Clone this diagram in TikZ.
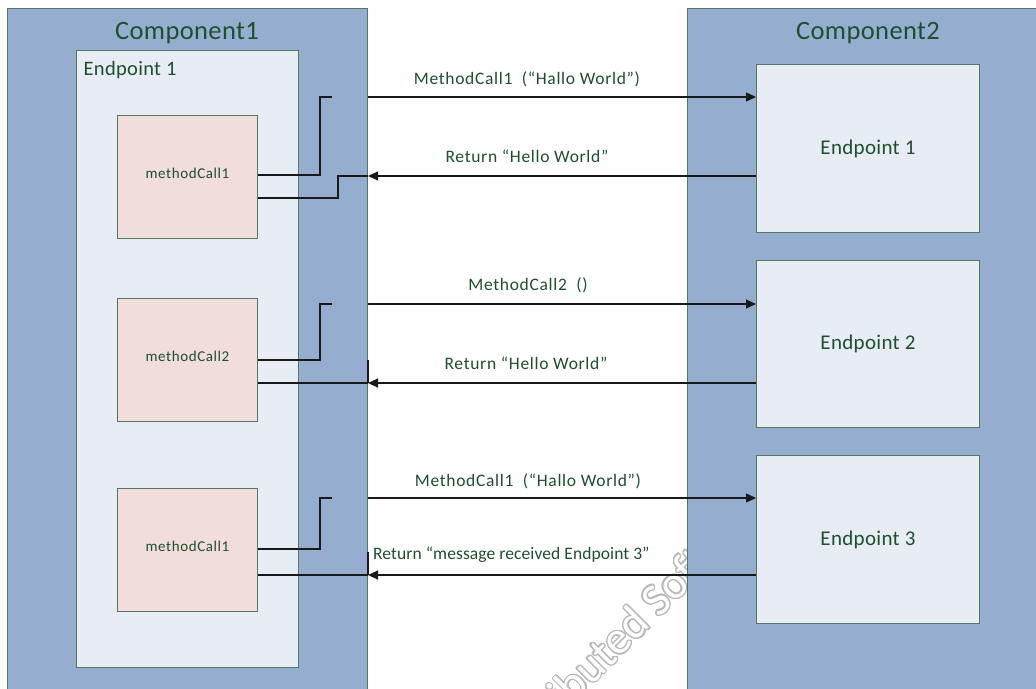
\documentclass[tikz,border=0pt]{standalone}
\usepackage{fontspec}
\usepackage[copies]{contour}
\setmainfont{Carlito}
\newfontfamily\lblfont{Carlito}[LetterSpace=4]
\newfontfamily\tightfont{Carlito}[LetterSpace=0.5]
\newfontfamily\ttlfont{Carlito}[LetterSpace=1.5]
\usetikzlibrary{arrows.meta}
\definecolor{compfill}{RGB}{149,174,207}
\definecolor{epfill}{RGB}{232,237,245}
\definecolor{mcfill}{RGB}{241,221,219}
\definecolor{edgec}{RGB}{84,118,98}
\definecolor{txtc}{RGB}{31,78,48}
\definecolor{wirec}{RGB}{25,25,25}
\definecolor{wmark}{RGB}{185,185,185}
\contourlength{1.3pt}
\tikzset{
  boxbase/.style={draw=edgec, line width=1pt, inner sep=0pt, anchor=north west, text=txtc},
  comp/.style={boxbase, fill=compfill},
  epbox/.style={boxbase, fill=epfill, font=\ttlfont\fontsize{21}{24}\selectfont},
  mcbox/.style={boxbase, fill=mcfill, font=\lblfont\fontsize{15}{18}\selectfont, text height=8pt, text depth=5pt},
  ttl/.style={text=txtc, inner sep=0pt, anchor=base, font=\ttlfont\fontsize{26.5}{30}\selectfont},
  sublbl/.style={text=txtc, inner sep=0pt, anchor=base west, font=\ttlfont\fontsize{20.5}{24}\selectfont},
  lbl/.style={text=txtc, inner sep=0pt, anchor=base, font=\lblfont\fontsize{17.5}{20}\selectfont},
  wire/.style={draw=wirec, line width=1.1pt},
  arr/.style={wire, -{Triangle[length=10pt,width=9pt]}},
}
\begin{document}
\begin{tikzpicture}[x=1pt,y=-1pt]
\useasboundingbox (0,0) rectangle (1036,688);
\begin{scope}
\clip (0,0) rectangle (1036,688);
\fill[white] (0,0) rectangle (1036,688);
% Component 1
\node[comp, minimum width=360pt, minimum height=692pt] (c1) at (7,8) {};
\node[ttl] (t1) at (187,39) {Component1};
\node[boxbase, fill=epfill, minimum width=222pt, minimum height=617pt] (epl) at (76,50) {};
\node[sublbl] (epltxt) at (83.5,75) {Endpoint 1};
\node[mcbox, minimum width=140pt, minimum height=123pt] (mc1) at (117,115) {methodCall1};
\node[mcbox, minimum width=140pt, minimum height=123pt] (mc2) at (117,298) {methodCall2};
\node[mcbox, minimum width=140pt, minimum height=123pt] (mc3) at (117,488) {methodCall1};
% watermark
\node[inner sep=0pt, rotate=45, font=\fontsize{46}{50}\selectfont] (wm) at (630,626) {\contour{wmark}{\textcolor{white}{Distributed Software}}};
% Component 2
\node[comp, minimum width=363pt, minimum height=692pt] (c2) at (687,8) {};
\node[ttl] (t2) at (868,39) {Component2};
\node[epbox, minimum width=223pt, minimum height=168pt] (ep1) at (756,64) {Endpoint 1};
\node[epbox, minimum width=223pt, minimum height=167pt] (ep2) at (756,260) {Endpoint 2};
\node[epbox, minimum width=223pt, minimum height=168pt] (ep3) at (756,455) {Endpoint 3};
% row 1
\coordinate (s1) at (332,97);
\draw[wire] (mc1.east |- 0,175) -| (320,97) -- (s1);
\draw[arr] (c1.east |- 0,97) -- (ep1.west |- 0,97);
\draw[arr] (ep1.west |- 0,176) -- (c1.east |- 0,176);
\draw[wire] (c1.east |- 0,176) -- (338,176) -- (338,198) -- (mc1.east |- 0,198);
% row 2
\coordinate (s2) at (332,304);
\draw[wire] (mc2.east |- 0,360) -| (320,304) -- (s2);
\draw[arr] (c1.east |- 0,304) -- (ep2.west |- 0,304);
\draw[arr] (ep2.west |- 0,383) -- (c1.east |- 0,383);
\draw[wire] (c1.east |- 0,383) -- (mc2.east |- 0,383);
\draw[wire] (c1.east |- 0,360) -- (c1.east |- 0,383);
% row 3
\coordinate (s3) at (332,498);
\draw[wire] (mc3.east |- 0,549) -| (320,498) -- (s3);
\draw[arr] (c1.east |- 0,498) -- (ep3.west |- 0,498);
\draw[arr] (ep3.west |- 0,575) -- (c1.east |- 0,575);
\draw[wire] (c1.east |- 0,575) -- (mc3.east |- 0,575);
\draw[wire] (c1.east |- 0,552) -- (c1.east |- 0,575);
% labels
\node[lbl] (l1) at (527,84) {MethodCall1~ (“Hallo World”)};
\node[lbl] (l2) at (527,162) {Return “Hello World”};
\node[lbl] (l3) at (528,290) {MethodCall2~ ()};
\node[lbl] (l4) at (526,369) {Return “Hello World”};
\node[lbl] (l5) at (528,486) {MethodCall1~ (“Hallo World”)};
\node[lbl, font=\tightfont\fontsize{17.5}{20}\selectfont, anchor=base west] (l6) at (373,559) {Return “message received Endpoint 3”};
\end{scope}
\end{tikzpicture}
\end{document}
